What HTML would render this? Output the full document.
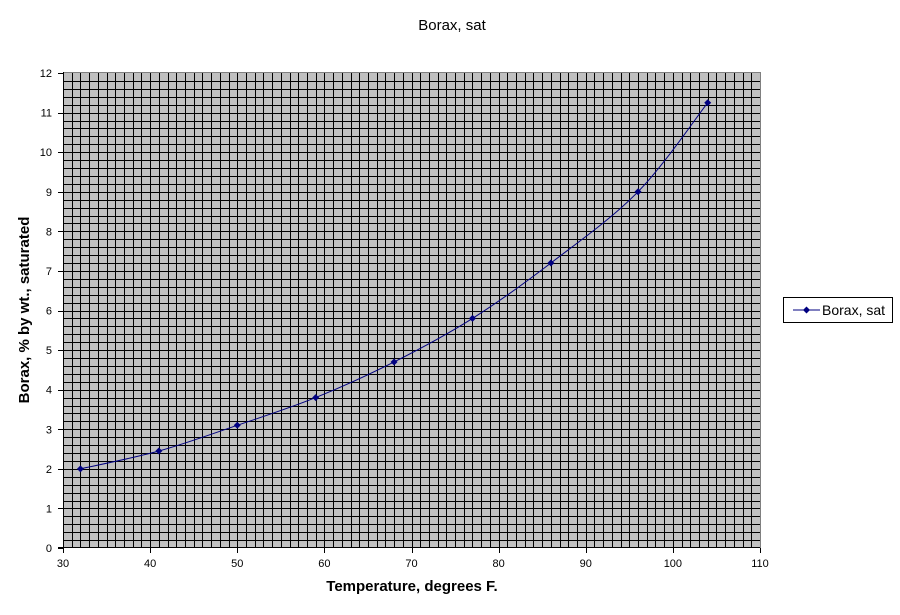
<!DOCTYPE html>
<html><head><meta charset="utf-8"><style>
body{margin:0;background:#fff;}
svg{display:block;font-family:"Liberation Sans",Arial,sans-serif;}
</style></head><body>
<svg id="s" width="900" height="615" xmlns="http://www.w3.org/2000/svg">
<rect x="0" y="0" width="900" height="615" fill="#fff"/>
<text x="452" y="30" font-size="15" text-anchor="middle">Borax, sat</text>
<rect x="63" y="72" width="697" height="476" fill="#c0c0c0"/>
<g id="grid" stroke="#000" stroke-width="1" shape-rendering="crispEdges"></g>
<rect x="63.5" y="72.5" width="697" height="475" fill="none" stroke="#808080" stroke-width="1" shape-rendering="crispEdges"/>
<g id="ax" stroke="#000" stroke-width="1" shape-rendering="crispEdges"></g>
<g id="lbl" font-size="11" fill="#000"></g>
<path id="curve" fill="none" stroke="#000080" stroke-width="1"/>
<g id="pts" fill="#000080"></g>
<text x="412" y="591" font-size="15" font-weight="bold" text-anchor="middle">Temperature, degrees F.</text>
<text transform="translate(29,310) rotate(-90)" font-size="15" font-weight="bold" text-anchor="middle">Borax, % by wt., saturated</text>
<rect x="783.5" y="297.5" width="109" height="25" fill="#fff" stroke="#000" stroke-width="1"/>
<line x1="793" y1="310" x2="820" y2="310" stroke="#000080" stroke-width="1"/>
<path d="M806.5 306.5 L810 310 L806.5 313.5 L803 310Z" fill="#000080"/>
<text x="822" y="315" font-size="14">Borax, sat</text>
</svg>
<script>
var ns="http://www.w3.org/2000/svg";
function X(t){return 63+(t-30)*697/80;}
function Y(v){return 548-v*475/12;}
function el(p,n,a){var e=document.createElementNS(ns,n);for(var k in a)e.setAttribute(k,a[k]);document.getElementById(p).appendChild(e);return e;}
for(var t=31;t<110;t++){var x=Math.round(X(t))+0.5;el('grid','line',{x1:x,y1:72,x2:x,y2:548});}
for(var i=1;i<60;i++){var y=Math.round(Y(i*0.2))+0.5;el('grid','line',{x1:63,y1:y,x2:760,y2:y});}
el('ax','line',{x1:63.5,y1:72,x2:63.5,y2:548});
el('ax','line',{x1:58,y1:547.5,x2:760,y2:547.5});
for(var v=0;v<=12;v++){var y=Math.round(Y(v))+0.5;el('ax','line',{x1:58,y1:y,x2:64,y2:y});var tx=el('lbl','text',{x:52,y:Y(v)+4,'text-anchor':'end'});tx.textContent=v;}
for(var t=30;t<=110;t+=10){var x=Math.round(X(t))+0.5;el('ax','line',{x1:x,y1:548,x2:x,y2:553});var tx=el('lbl','text',{x:X(t),y:567,'text-anchor':'middle'});tx.textContent=t;}
var d=[[32,2.0],[41,2.45],[50,3.1],[59,3.8],[68,4.7],[77,5.8],[86,7.2],[96,9.0],[104,11.25]];
var P=d.map(function(p){return [X(p[0]),Y(p[1])];});
var s="M"+P[0][0]+" "+P[0][1];
for(var i=0;i<P.length-1;i++){var p0=P[Math.max(0,i-1)],p1=P[i],p2=P[i+1],p3=P[Math.min(P.length-1,i+2)];
s+=" C"+(p1[0]+(p2[0]-p0[0])/6)+" "+(p1[1]+(p2[1]-p0[1])/6)+" "+(p2[0]-(p3[0]-p1[0])/6)+" "+(p2[1]-(p3[1]-p1[1])/6)+" "+p2[0]+" "+p2[1];}
document.getElementById('curve').setAttribute('d',s);
P.forEach(function(p){el('pts','path',{d:"M"+p[0]+" "+(p[1]-3.5)+" L"+(p[0]+3.5)+" "+p[1]+" L"+p[0]+" "+(p[1]+3.5)+" L"+(p[0]-3.5)+" "+p[1]+"Z"});});
</script>
</body></html>
